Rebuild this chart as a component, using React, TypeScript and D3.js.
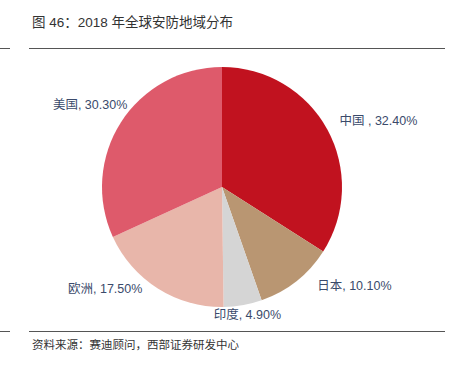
import React from "react";
import * as d3 from "d3";

const categories = ["中国", "日本", "印度", "欧洲", "美国"];
const values = [32.4, 10.1, 4.9, 17.5, 30.3];
const labelTexts = ["中国 , 32.40%", "日本, 10.10%", "印度, 4.90%", "欧洲, 17.50%", "美国, 30.30%"];
const colors = ["#C1121F", "#B99672", "#D5D5D5", "#E8B6AA", "#DE5A6B"];
// label placement tweaks (style only)
const labelAnchor = ["start", "start", "middle", "end", "end"];
const labelDx = [0, 12, 2, -8, 18];
const labelDy = [-2, -6, -4, -11, -10];

const W = 453;
const H = 366;
const cx = 222;
const cy = 187;
const r = 120;

export default function App() {
  const data = categories.map((c, i) => ({ c, v: values[i], i }));
  const pie = d3.pie<any>().value((d) => d.v).sort(null);
  const arcs = pie(data);
  const arc = d3.arc<any>().innerRadius(0).outerRadius(r);
  const labelArc = d3.arc<any>().innerRadius(r + 14).outerRadius(r + 14);
  const font = "'Liberation Sans', Arial, 'Noto Sans CJK SC', sans-serif";
  return (
    <svg width={W} height={H} style={{ position: "absolute", left: 0, top: 0, background: "#fff" }}>
      <text x={32} y={27} fontSize={13.5} fill="#333" fontFamily={font}>
        图 46：2018 年全球安防地域分布
      </text>
      <line x1={0} x2={10} y1={48.5} y2={48.5} stroke="#555" strokeWidth={1} />
      <line x1={29} x2={445} y1={48.5} y2={48.5} stroke="#555" strokeWidth={1} />
      <g transform={`translate(${cx},${cy})`}>
        {arcs.map((a, i) => (
          <path key={i} d={arc(a) as string} fill={colors[i]} />
        ))}
        {arcs.map((a, i) => {
          const [lx, ly] = labelArc.centroid(a);
          return (
            <text
              key={"l" + i}
              x={lx + labelDx[i]}
              y={ly + labelDy[i]}
              textAnchor={labelAnchor[i] as any}
              dominantBaseline="central"
              fontSize={12.5}
              fill="#3A4A6B"
              fontFamily={font}
            >
              {labelTexts[i]}
            </text>
          );
        })}
      </g>
      <line x1={0} x2={10} y1={331.5} y2={331.5} stroke="#555" strokeWidth={1} />
      <line x1={29} x2={445} y1={331.5} y2={331.5} stroke="#555" strokeWidth={1} />
      <text x={32} y={349} fontSize={11.5} fill="#333" fontFamily={font}>
        资料来源：赛迪顾问，西部证券研发中心
      </text>
    </svg>
  );
}
